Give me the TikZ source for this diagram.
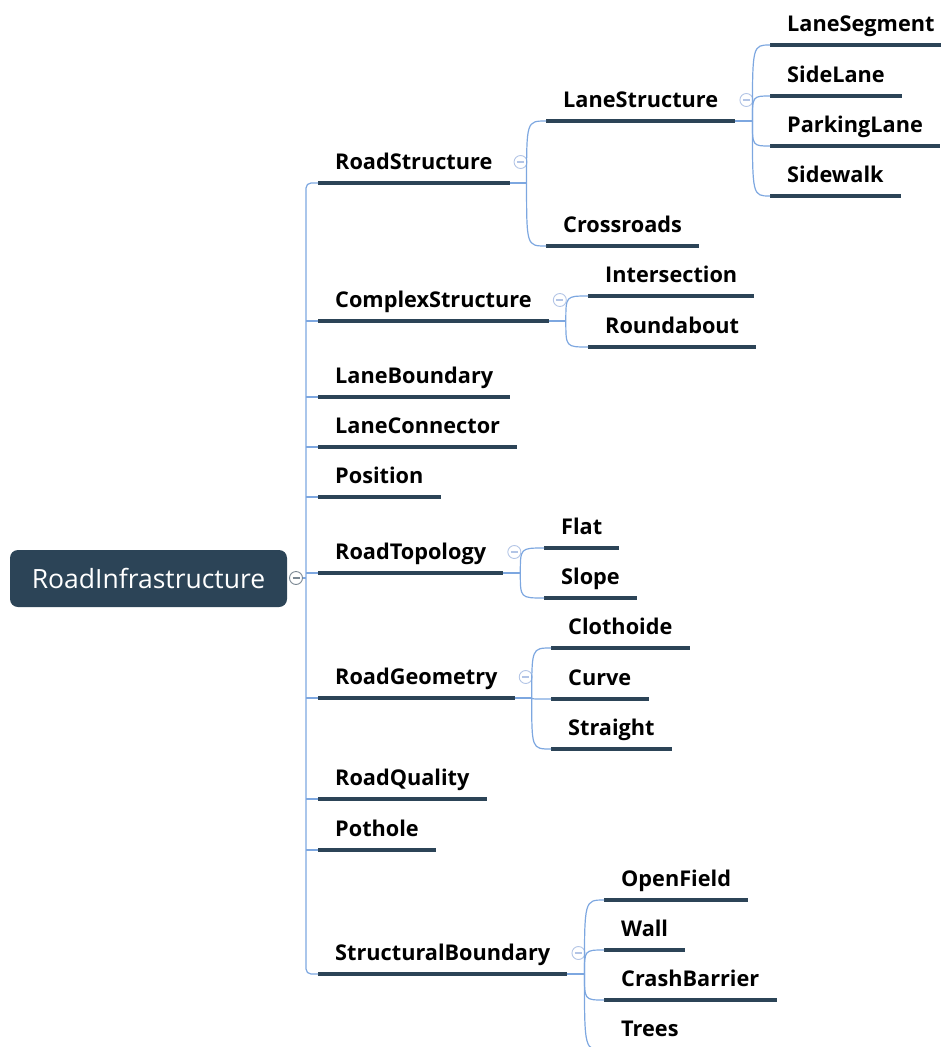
\documentclass[tikz,border=0pt]{standalone}
\usepackage{fontspec}
\setmainfont{Open Sans}
\usetikzlibrary{calc}
\definecolor{ardoise}{HTML}{2C4457}
\definecolor{bleulien}{HTML}{7DA7E0}
\definecolor{bleubouton}{HTML}{B3C5E6}
\definecolor{grisbouton}{HTML}{7A8792}
\begin{document}
\begin{tikzpicture}[x=1pt,y=-1pt]
	\tikzstyle{racine}=[fill=ardoise,text=white,rounded corners=8pt,minimum width=277pt,minimum height=57pt,font=\fontsize{26.5}{30}\selectfont]
	\tikzstyle{sujet}=[anchor=south west,inner xsep=17pt,inner ysep=13.7pt,text height=16pt,text depth=0pt,font=\fontsize{21.7}{26}\bfseries\selectfont]
	\tikzstyle{souligne}=[ardoise,line width=3.6pt]
	\tikzstyle{lien}=[bleulien,line width=1.2pt]
	\tikzstyle{bouton}=[circle,draw=bleubouton,fill=white,line width=0.9pt,inner sep=0pt,minimum size=13pt,
		path picture={\draw[bleubouton,line width=1.2pt] ([xshift=-3.5pt]path picture bounding box.center)--([xshift=3.5pt]path picture bounding box.center);}]
	
	\useasboundingbox (0,0) rectangle (941,1047);
	
	% racine
	\node[racine] (rac) at (148.5,578.5) {RoadInfrastructure};
	\node[bouton,draw=grisbouton,path picture={\draw[grisbouton,line width=1.2pt] ([xshift=-3.5pt]path picture bounding box.center)--([xshift=3.5pt]path picture bounding box.center);}] (racB) at (296,578) {};
	\coordinate (tronc) at (306,578);
	
	% premier niveau
	\node[sujet] (rs) at (318,183) {RoadStructure};
	\node[sujet] (cs) at (318,321) {ComplexStructure};
	\node[sujet] (lb) at (318,397) {LaneBoundary};
	\node[sujet] (lc) at (318,447) {LaneConnector};
	\node[sujet] (pos) at (318,497) {Position};
	\node[sujet] (rt) at (318,573) {RoadTopology};
	\node[sujet] (rg) at (318,698) {RoadGeometry};
	\node[sujet] (rq) at (318,799) {RoadQuality};
	\node[sujet] (ph) at (318,850) {Pothole};
	\node[sujet] (sb) at (318,974) {StructuralBoundary};
	
	% second niveau
	\node[sujet] (ls) at (546,121) {LaneStructure};
	\node[sujet] (cr) at (546,246) {Crossroads};
	\node[sujet] (inter) at (588,296) {Intersection};
	\node[sujet] (rdb) at (588,347) {Roundabout};
	\node[sujet] (fl) at (544,548) {Flat};
	\node[sujet] (slo) at (544,598) {Slope};
	\node[sujet] (clo) at (551,648) {Clothoide};
	\node[sujet] (cur) at (551,699) {Curve};
	\node[sujet] (str) at (551,749) {Straight};
	\node[sujet] (of) at (604,900) {OpenField};
	\node[sujet] (wa) at (604,950) {Wall};
	\node[sujet] (cb) at (604,1000) {CrashBarrier};
	\node[sujet] (tr) at (604,1050) {Trees};
	
	% troisieme niveau
	\node[sujet] (lseg) at (770,45) {LaneSegment};
	\node[sujet] (sl) at (770,96) {SideLane};
	\node[sujet] (pl) at (770,146) {ParkingLane};
	\node[sujet] (sw) at (770,196) {Sidewalk};
	
	% soulignements
	\foreach \n in {rs,cs,lb,lc,pos,rt,rg,rq,ph,sb,ls,cr,inter,rdb,fl,slo,clo,cur,str,of,wa,cb,tr,lseg,sl,pl,sw}
		\draw[souligne] (\n.south west)--(\n.south east);
	
	% tronc
	\draw[lien] (racB)--(tronc);
	\draw[lien,rounded corners=5pt] (rs.south west) -| (tronc) |- (sb.south west);
	\foreach \e in {cs,lb,lc,pos,rt,rg,rq,ph}
		\draw[lien] (tronc |- \e.south west)--(\e.south west);
	
	% branches
	\foreach \p/\enfants in {rs/{ls,cr},ls/{lseg,sl,pl,sw},cs/{inter,rdb},rt/{fl,slo},rg/{clo,cur,str},sb/{of,wa,cb,tr}}{
		\coordinate (\p F) at ([xshift=17pt]\p.south east);
		\node[bouton] (\p B) at ([xshift=11pt,yshift=21pt]\p.south east) {};
		\draw[lien] (\p.south east)--(\p F);
		\foreach \e in \enfants
			\draw[lien] (\p F) .. controls (\p F |- \e.south west) .. (\e.south west);
	}
\end{tikzpicture}
\end{document}
